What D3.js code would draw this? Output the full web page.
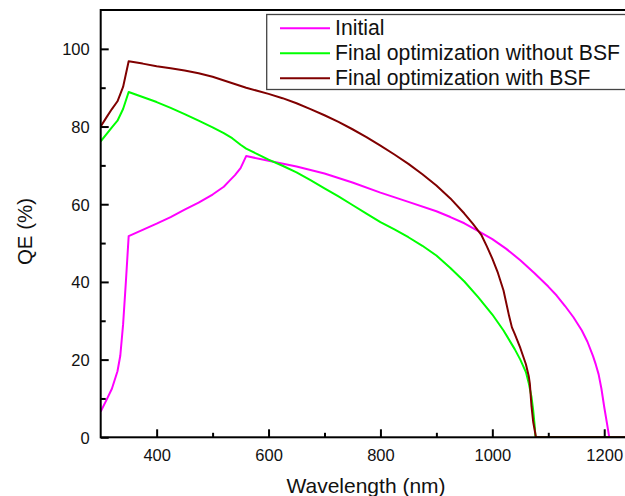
<!DOCTYPE html>
<html><head><meta charset="utf-8">
<script src="https://cdn.jsdelivr.net/npm/d3@7"></script>
<style>html,body{margin:0;padding:0;background:#fff;overflow:hidden}</style>
</head><body>
<svg id="chart" width="625" height="496"></svg>
<script>
const initialWl = [300,310,320,330,335,340,345,350,375,400,425,450,475,500,520,530,540,550,560,600,650,700,750,800,850,900,925,950,975,1000,1025,1050,1075,1100,1115,1130,1145,1160,1170,1180,1185,1190,1195,1200,1205,1209,1260];
const initialQE = [6.6,9.5,12.5,17,21,29,40,51.8,53.4,55,56.7,58.6,60.4,62.5,64.5,66,67.5,69.3,72.4,71.2,69.7,67.9,65.6,63.0,60.6,58.2,56.7,55.1,53.1,51.0,48.5,45.6,42.3,38.8,36.5,33.8,30.9,27.5,24.6,20.9,18.7,16.2,12.5,7.8,3.5,0,0];
const noBsfWl = [300,310,320,330,340,350,375,400,425,450,475,500,520,535,550,560,580,600,625,650,675,700,725,750,775,800,825,850,875,900,925,950,975,1000,1020,1040,1050,1060,1065,1070,1073,1076,1077,1260];
const noBsfQE = [76.2,78,79.8,81.5,84.5,88.9,87.6,86.3,84.8,83.2,81.5,79.8,78.3,77.0,75.3,74.3,72.9,71.5,69.9,68.2,66.2,64.1,62.0,59.8,57.6,55.4,53.5,51.5,49.3,46.8,43.6,40.1,36.0,31.6,27.5,22.7,20.0,16.8,14.0,10.4,7,2.5,0,0];
const bsfWl = [300,310,320,330,340,350,375,400,425,450,475,500,530,560,600,625,650,675,700,725,750,775,800,825,850,875,900,925,950,965,980,990,1000,1010,1020,1030,1035,1040,1050,1060,1065,1067,1070,1073,1078,1260];
const bsfQE = [80,82.3,84.5,86.5,90.2,96.8,96.2,95.5,95.0,94.4,93.7,92.8,91.4,90,88.4,87.3,86,84.5,82.9,81.2,79.3,77.3,75.1,72.8,70.4,67.7,64.8,61.5,57.6,55,52.2,49.2,46,42.3,37.8,31.2,28.3,26.6,23.0,18.8,15.8,13.9,8,4,0,0];
const seriesNames = ["Initial","Final optimization without BSF","Final optimization with BSF"];
const seriesColors = ["#ff00ff","#00ff00","#800000"];
const xTicks = [400,600,800,1000,1200];
const yTicks = [0,20,40,60,80,100];

const svg = d3.select("#chart");
const mLeft = 100.7, mTop = 10, mBottom = 437.3, mRight = 632.2;
const x = d3.scaleLinear().domain([300,1250]).range([mLeft,mRight]);
const y = d3.scaleLinear().domain([0,110]).range([mBottom,mTop]);

svg.append("defs").append("clipPath").attr("id","clip")
  .append("rect").attr("x",mLeft).attr("y",mTop).attr("width",mRight-mLeft).attr("height",mBottom-mTop);

const series = [
  {wl: initialWl, qe: initialQE},
  {wl: noBsfWl, qe: noBsfQE},
  {wl: bsfWl, qe: bsfQE}
];
const line = d3.line().x(d=>x(d[0])).y(d=>y(d[1]));
const g = svg.append("g").attr("clip-path","url(#clip)");
series.forEach((s,i)=>{
  g.append("path").datum(s.wl.map((w,j)=>[w,s.qe[j]]))
   .attr("d",line).attr("fill","none").attr("stroke",seriesColors[i])
   .attr("stroke-width",2).attr("stroke-linejoin","round");
});

// frame
svg.append("rect").attr("x",mLeft).attr("y",mTop).attr("width",mRight-mLeft).attr("height",mBottom-mTop)
  .attr("fill","none").attr("stroke","#000").attr("stroke-width",2);

// axes
const font = "'Liberation Sans', Arial, sans-serif";
const xAxis = svg.append("g").attr("transform",`translate(0,${mBottom})`)
  .call(d3.axisBottom(x).tickValues(xTicks).tickSize(-8).tickPadding(14).tickFormat(d3.format("d")));
const xMinor = svg.append("g").attr("transform",`translate(0,${mBottom})`)
  .call(d3.axisBottom(x).tickValues([500,700,900,1100]).tickSize(-4.5).tickFormat(""));
const yAxis = svg.append("g").attr("transform",`translate(${mLeft},0)`)
  .call(d3.axisLeft(y).tickValues(yTicks).tickSize(-8).tickPadding(11).tickFormat(d3.format("d")));
const yMinor = svg.append("g").attr("transform",`translate(${mLeft},0)`)
  .call(d3.axisLeft(y).tickValues([10,30,50,70,90]).tickSize(-5).tickFormat(""));
[xAxis,xMinor,yAxis,yMinor].forEach(a=>{
  a.select(".domain").remove();
  a.selectAll("line").attr("stroke","#000").attr("stroke-width",2);
  a.selectAll("text").attr("font-family",font).attr("font-size",16.5).attr("fill","#111");
});
xAxis.selectAll("text").attr("dy",0).attr("y",24);
yAxis.selectAll("text").attr("dy","0.36em");

svg.append("text").attr("x",366).attr("y",493).attr("text-anchor","middle")
  .attr("font-family",font).attr("font-size",21).attr("fill","#111").text("Wavelength (nm)");
svg.append("text").attr("transform","translate(32,231.5) rotate(-90)").attr("text-anchor","middle")
  .attr("font-family",font).attr("font-size",20.5).attr("fill","#111").text("QE (%)");

// legend
const lg = svg.append("g");
lg.append("rect").attr("x",266.7).attr("y",14.5).attr("width",400).attr("height",75)
  .attr("fill","#fff").attr("stroke","#444").attr("stroke-width",1.3);
seriesNames.forEach((n,i)=>{
  const cy = 28.3 + i*25;
  lg.append("line").attr("x1",280).attr("x2",330).attr("y1",cy).attr("y2",cy)
    .attr("stroke",seriesColors[i]).attr("stroke-width",2);
  lg.append("text").attr("x",335).attr("y",cy+7).attr("font-family",font)
    .attr("font-size",21.2).attr("fill","#111").text(n);
});
</script>
</body></html>
